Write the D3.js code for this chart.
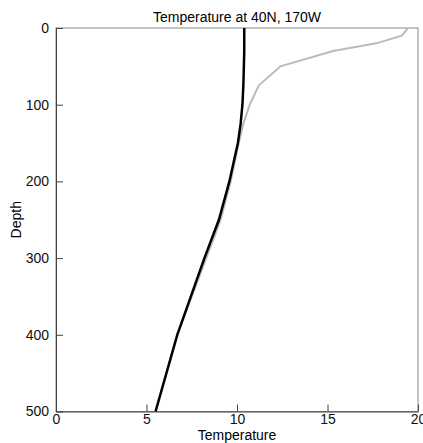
<!DOCTYPE html>
<html>
<head>
<meta charset="utf-8">
<script src="https://cdn.jsdelivr.net/npm/d3@7"></script>
<style>
  body { margin: 0; background: #fff; }
  text { font-family: "Liberation Sans", Arial, sans-serif; }
</style>
</head>
<body>
<div id="chart"></div>
<script>
// depth levels (m) and temperature profiles
const depths   = [0, 10, 20, 30, 50, 75, 100, 125, 150, 200, 250, 300, 400, 500];
const tempMean = [10.4, 10.4, 10.4, 10.4, 10.38, 10.35, 10.3, 10.2, 10.05, 9.58, 9.0, 8.2, 6.7, 5.5];
const tempObs  = [19.45, 19.1, 17.7, 15.3, 12.4, 11.2, 10.7, 10.35, 10.1, 9.65, 9.1, 8.3, 6.7, 5.5];
const xTicks = [0, 5, 10, 15, 20];
const yTicks = [0, 100, 200, 300, 400, 500];

const width = 423, height = 443;
const margins = {top: 28, right: 5, bottom: 31.5, left: 56};

const svg = d3.select("#chart").append("svg")
    .attr("width", width)
    .attr("height", height);

const xScale = d3.scaleLinear().domain([0, 20]).range([margins.left, width - margins.right]);
const yScale = d3.scaleLinear().domain([0, 500]).range([margins.top, height - margins.bottom]);

// frame
svg.append("rect")
    .attr("x", xScale(0)).attr("y", yScale(0))
    .attr("width", xScale(20) - xScale(0))
    .attr("height", yScale(500) - yScale(0))
    .attr("fill", "none")
    .attr("stroke", "#888")
    .attr("stroke-width", 1);

// axes with inward ticks
const xAxis = svg.append("g")
    .attr("transform", `translate(0,${yScale(500)})`)
    .call(d3.axisBottom(xScale).tickValues(xTicks).tickSizeInner(-7).tickSizeOuter(0).tickPadding(3));
const yAxis = svg.append("g")
    .attr("transform", `translate(${xScale(0)},0)`)
    .call(d3.axisLeft(yScale).tickValues(yTicks).tickSizeInner(-7).tickSizeOuter(0).tickPadding(7));

[xAxis, yAxis].forEach(g => {
    g.select(".domain").attr("stroke", "#444");
    g.selectAll(".tick line").attr("stroke", "#444");
    g.selectAll(".tick text").attr("font-size", 14).attr("fill", "#111")
        .style("font-family", '"Liberation Sans", Arial, sans-serif');
});

// lines
const line = vals => d3.line()
    .x((d, i) => xScale(vals[i]))
    .y(d => yScale(d))(depths);

svg.append("path")
    .attr("d", line(tempObs))
    .attr("fill", "none")
    .attr("stroke", "#bbb")
    .attr("stroke-width", 2);

svg.append("path")
    .attr("d", line(tempMean))
    .attr("fill", "none")
    .attr("stroke", "#000")
    .attr("stroke-width", 2.5);

// title and labels
svg.append("text")
    .attr("x", (xScale(0) + xScale(20)) / 2)
    .attr("y", 22)
    .attr("text-anchor", "middle")
    .attr("font-size", 14)
    .text("Temperature at 40N, 170W");

svg.append("text")
    .attr("x", (xScale(0) + xScale(20)) / 2)
    .attr("y", 440)
    .attr("text-anchor", "middle")
    .attr("font-size", 14)
    .text("Temperature");

svg.append("text")
    .attr("transform", `translate(21,${(yScale(0) + yScale(500)) / 2}) rotate(-90)`)
    .attr("text-anchor", "middle")
    .attr("font-size", 14)
    .text("Depth");
</script>
</body>
</html>
